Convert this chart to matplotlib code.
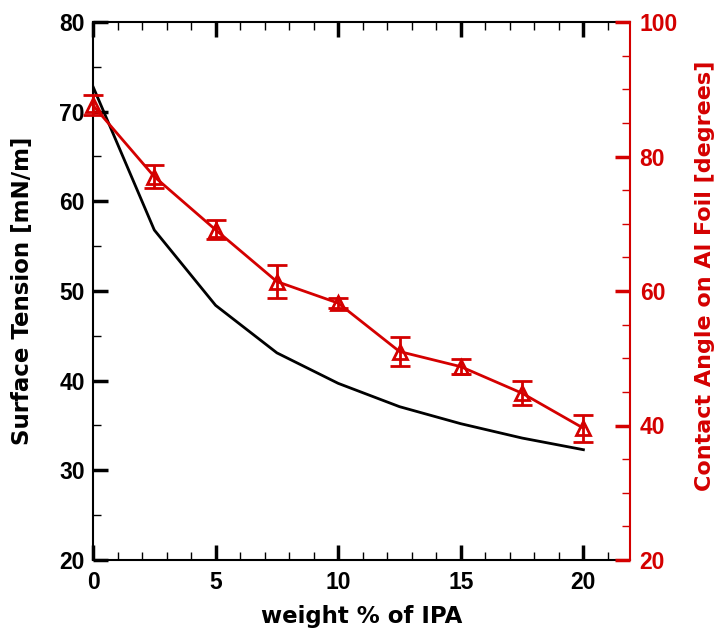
import matplotlib
matplotlib.use('Agg')
import matplotlib.pyplot as plt
from matplotlib.ticker import MultipleLocator

plt.rcParams['font.family'] = ['Liberation Sans', 'DejaVu Sans']
plt.rcParams['font.weight'] = 'bold'

ipa_wt = [0, 2.5, 5, 7.5, 10, 12.5, 15, 17.5, 20]
surface_tension = [72.8, 56.8, 48.4, 43.1, 39.7, 37.1, 35.2, 33.6, 32.3]
contact_angle = [87.6, 77.0, 69.1, 61.4, 58.2, 51.0, 48.75, 44.8, 39.6]
contact_angle_err = [1.5, 1.7, 1.4, 2.4, 0.8, 2.1, 1.1, 1.8, 2.0]

x_label = 'weight % of IPA'
y_label = 'Surface Tension [mN/m]'
y2_label = 'Contact Angle on Al Foil [degrees]'

RED = '#d40000'
TICK_FS = 16.5
LABEL_FS = 16.5
LABEL_FONT = ['DejaVu Sans']

fig = plt.figure(figsize=(7.21, 6.29), dpi=100)
ax = fig.add_axes([93/721, 1-560/629, (630-93)/721, (560-22)/629])
ax.plot(ipa_wt, surface_tension, color='black', lw=2, zorder=3)
ax.set_xlim(0, 21.9)
ax.set_ylim(20, 80)
ax.xaxis.set_major_locator(MultipleLocator(5))
ax.xaxis.set_minor_locator(MultipleLocator(1))
ax.yaxis.set_major_locator(MultipleLocator(10))
ax.yaxis.set_minor_locator(MultipleLocator(5))
ax.tick_params(axis='x', which='both', direction='in', top=True, bottom=True)
ax.tick_params(axis='y', which='both', direction='in', left=True, right=False)
ax.tick_params(axis='x', which='major', pad=8)
ax.tick_params(axis='y', which='major', pad=6)
ax.tick_params(which='major', length=11, width=2.5, labelsize=TICK_FS)
ax.tick_params(which='minor', length=6, width=1)
for s in ['left', 'bottom', 'top']:
    ax.spines[s].set_linewidth(1.5)
ax.spines['right'].set_visible(False)
ax.set_xlabel(x_label, fontsize=LABEL_FS, fontweight='bold', family=LABEL_FONT, labelpad=8)
ax.set_ylabel(y_label, fontsize=LABEL_FS, fontweight='bold', family=LABEL_FONT, labelpad=18)

ax2 = ax.twinx()
cont = ax2.errorbar(ipa_wt, contact_angle, yerr=contact_angle_err, color=RED, lw=2,
                    marker='^', mfc='none', mec=RED, ms=10, mew=2,
                    capsize=7, capthick=2, elinewidth=2, zorder=4)
for art in [cont.lines[0], *cont.lines[1], *cont.lines[2]]:
    art.set_clip_on(False)
ax2.set_ylim(20, 100)
ax2.yaxis.set_major_locator(MultipleLocator(20))
ax2.yaxis.set_minor_locator(MultipleLocator(5))
ax2.tick_params(axis='y', which='both', direction='in', colors=RED, right=True, left=False)
ax2.tick_params(which='major', length=11, width=2.5, labelsize=TICK_FS, pad=7)
ax2.tick_params(which='minor', length=6, width=1)
for s in ['left', 'bottom', 'top']:
    ax2.spines[s].set_visible(False)
ax2.spines['right'].set_color(RED)
ax2.spines['right'].set_linewidth(1.5)
ax2.set_ylabel(y2_label, fontsize=16, fontweight='bold', family=LABEL_FONT,
               color=RED, labelpad=12)
ax2.yaxis.label.set_y(0.528)

fig.savefig('out.png', dpi=100)
